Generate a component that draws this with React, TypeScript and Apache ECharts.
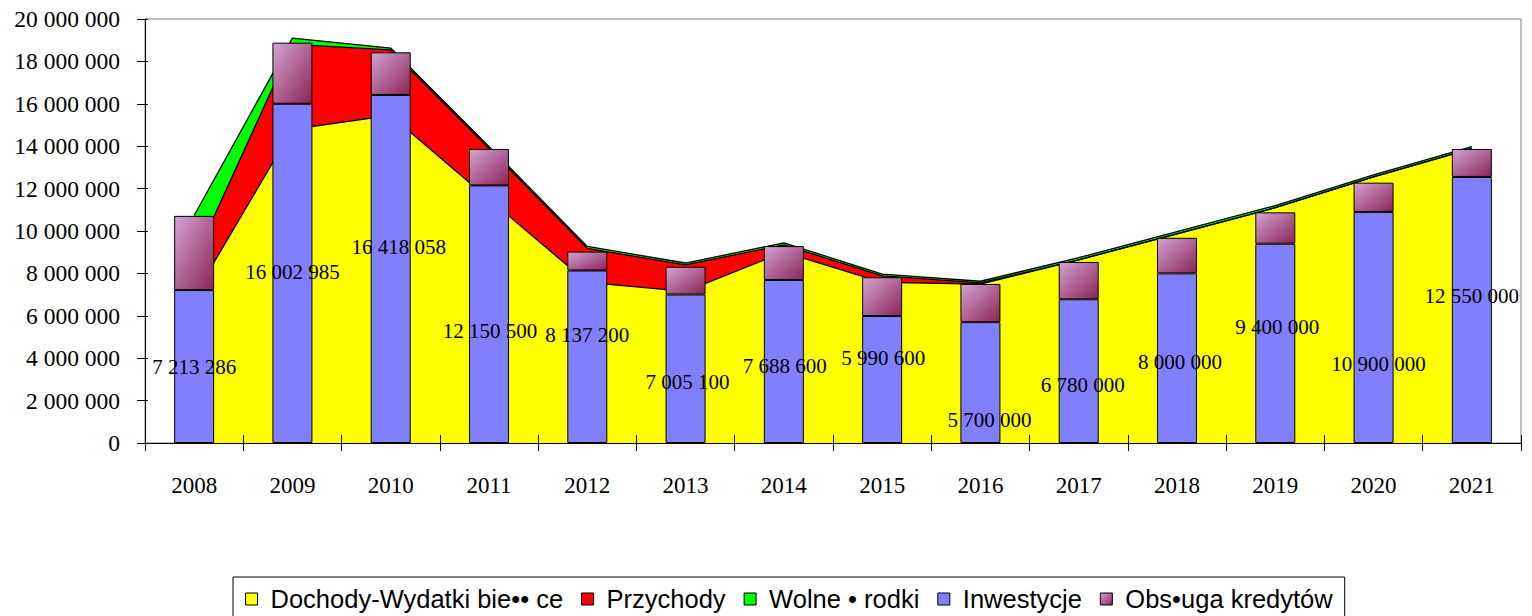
import React, { useEffect, useRef } from "react";
import * as echarts from "echarts";

const years = ["2008", "2009", "2010", "2011", "2012", "2013", "2014", "2015", "2016", "2017", "2018", "2019", "2020", "2021"];

// Stacked areas
const dochodyWydatki = [6930000, 14800000, 15450000, 11500000, 7580000, 7150000, 9000000, 7580000, 7500000, 8640000, 9870000, 11100000, 12550000, 13880000];
const przychody = [1700000, 4000000, 3090000, 2400000, 1600000, 1250000, 350000, 300000, 50000, 0, 0, 0, 0, 0];
const wolneSrodki = [2100000, 300000, 90000, 90000, 90000, 90000, 90000, 90000, 80000, 100000, 100000, 100000, 100000, 100000];

// Stacked bars
const inwestycje = [7213286, 16002985, 16418058, 12150500, 8137200, 7005100, 7688600, 5990600, 5700000, 6780000, 8000000, 9400000, 10900000, 12550000];
const obslugaKredytow = [3500000, 2880000, 2010000, 1720000, 890000, 1310000, 1600000, 1830000, 1800000, 1760000, 1680000, 1480000, 1380000, 1320000];

const seriesNames = ["Dochody-Wydatki bie\u2022\u2022 ce", "Przychody", "Wolne \u2022 rodki", "Inwestycje", "Obs\u2022uga kredytów"];

// label placement (styling only)
const labelOffsets = [[0, 0], [0, -1], [8, -22], [1, 17], [0, -22], [2, 13], [1, 4], [1, -21], [9, 37], [4, 14], [3, 4], [2, -16], [5, 37], [0, -14]];

const fmt = (v: number) => String(Math.round(v)).replace(/\B(?=(\d{3})+(?!\d))/g, " ");

export default function App() {
  const ref = useRef<HTMLDivElement>(null);
  useEffect(() => {
    if (!ref.current) return;
    const chart = echarts.init(ref.current, null, { renderer: "svg" });
    const purple = new echarts.graphic.LinearGradient(0, 0, 1, 1, [
      { offset: 0, color: "#d4a3d4" },
      { offset: 1, color: "#8a2456" },
    ]);
    const areaSeries = (name: string, data: number[], color: string) => ({
      name,
      type: "line",
      stack: "area",
      data,
      symbol: "none",
      lineStyle: { color: "#000", width: 1.3 },
      itemStyle: { color },
      areaStyle: { color, opacity: 1 },
      z: 2,
    });
    const yCommon = {
      type: "value",
      min: 0,
      max: 20000000,
      interval: 2000000,
      splitLine: { show: false },
    };
    chart.setOption({
      animation: false,
      backgroundColor: "#fff",
      grid: { left: 145, top: 19, right: 11, bottom: 173, show: true, borderColor: "#808080", borderWidth: 1 },
      legend: {
        left: 233,
        top: 577,
        padding: [9, 12, 12, 12],
        borderColor: "#000",
        borderWidth: 1,
        itemWidth: 12,
        itemHeight: 12,
        itemGap: 18,
        icon: "rect",
        textStyle: { fontFamily: "Liberation Sans", fontSize: 25.5, color: "#000", padding: [0, 0, 0, 8] },
        data: [
          { name: seriesNames[0], itemStyle: { color: "#FFFF00", borderColor: "#000", borderWidth: 1 } },
          { name: seriesNames[1], itemStyle: { color: "#FF0000", borderColor: "#000", borderWidth: 1 } },
          { name: seriesNames[2], itemStyle: { color: "#00FF00", borderColor: "#000", borderWidth: 1 } },
          { name: seriesNames[3], itemStyle: { color: "#8080FF", borderColor: "#000", borderWidth: 1 } },
          { name: seriesNames[4], itemStyle: { color: purple, borderColor: "#000", borderWidth: 1 } },
        ],
      },
      xAxis: [
        {
          type: "category",
          data: years,
          position: "bottom",
          boundaryGap: true,
          axisLine: { lineStyle: { color: "#000", width: 1 } },
          axisTick: { show: true, length: 8, lineStyle: { color: "#000" } },
          axisLabel: { fontFamily: "Liberation Serif", fontSize: 23, color: "#000", margin: 31 },
          splitLine: { show: false },
        },
        {
          type: "category",
          data: years,
          position: "bottom",
          boundaryGap: true,
          z: 10,
          axisLine: { show: false },
          axisTick: { show: true, inside: true, length: 8, lineStyle: { color: "#000" } },
          axisLabel: { show: false },
          splitLine: { show: false },
        },
      ],
      yAxis: [
        {
          ...yCommon,
          position: "left",
          axisLine: { show: true, lineStyle: { color: "#000", width: 1 } },
          axisTick: { show: true, length: 8, lineStyle: { color: "#000" } },
          axisLabel: { fontFamily: "Liberation Serif", fontSize: 23.5, color: "#000", margin: 25, formatter: (v: number) => fmt(v) },
        },
        {
          ...yCommon,
          position: "left",
          z: 10,
          axisLine: { show: false },
          axisTick: { show: true, inside: true, length: 3, lineStyle: { color: "#000" } },
          axisLabel: { show: false },
        },
      ],
      series: [
        areaSeries(seriesNames[0], dochodyWydatki, "#FFFF00"),
        areaSeries(seriesNames[1], przychody, "#FF0000"),
        areaSeries(seriesNames[2], wolneSrodki, "#00FF00"),
        {
          name: seriesNames[3],
          type: "bar",
          stack: "bar",
          barWidth: 40,
          z: 3,
          itemStyle: { color: "#8080FF", borderColor: "#000", borderWidth: 1 },
          label: {
            show: true,
            position: "inside",
            fontFamily: "Liberation Serif",
            fontSize: 21,
            color: "#000",
            formatter: (p: any) => fmt(p.value),
          },
          data: inwestycje.map((v, i) => ({ value: v, label: { offset: labelOffsets[i] } })),
        },
        {
          name: seriesNames[4],
          type: "bar",
          stack: "bar",
          barWidth: 40,
          z: 3,
          itemStyle: { color: purple, borderColor: "#000", borderWidth: 1 },
          data: obslugaKredytow,
        },
      ],
    });
    return () => chart.dispose();
  }, []);
  return <div ref={ref} style={{ position: "fixed", left: 0, top: 0, width: 1532, height: 616 }} />;
}
